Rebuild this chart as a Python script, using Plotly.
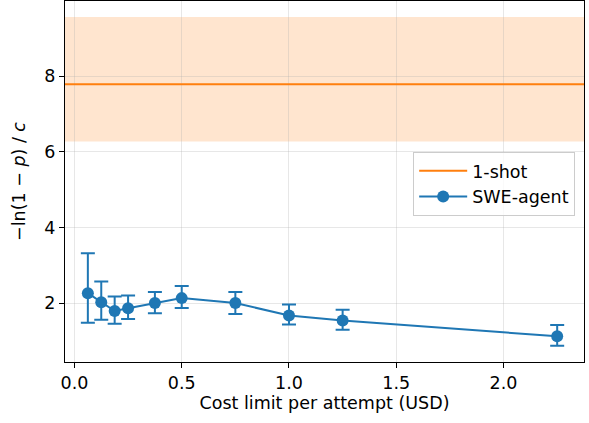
import plotly.graph_objects as go

cost_limits = [0.0625, 0.125, 0.1875, 0.25, 0.375, 0.5, 0.75, 1.0, 1.25, 2.25]
swe_values = [2.26, 2.02, 1.79, 1.86, 2.00, 2.13, 2.00, 1.67, 1.54, 1.12]
swe_upper = [3.32, 2.57, 2.17, 2.20, 2.29, 2.45, 2.29, 1.96, 1.82, 1.42]
swe_lower = [1.48, 1.56, 1.45, 1.58, 1.73, 1.87, 1.71, 1.43, 1.29, 0.87]

one_shot_value = 7.79
one_shot_low = 6.27
one_shot_high = 9.57

x_ticks = [0.0, 0.5, 1.0, 1.5, 2.0]
x_tick_labels = ["0.0", "0.5", "1.0", "1.5", "2.0"]
y_ticks = [2, 4, 6, 8]

blue = "#1f77b4"
orange = "#ff7f0e"

err_plus = [u - v for u, v in zip(swe_upper, swe_values)]
err_minus = [v - l for v, l in zip(swe_values, swe_lower)]

fig = go.Figure()

fig.add_shape(type="rect", xref="paper", x0=0, x1=1, yref="y",
              y0=one_shot_low, y1=one_shot_high,
              fillcolor="rgba(255,127,14,0.2)", line=dict(width=0), layer="below")
fig.add_shape(type="line", xref="paper", x0=0, x1=1, yref="y",
              y0=one_shot_value, y1=one_shot_value,
              line=dict(color=orange, width=2), layer="above",
              showlegend=True, name="1-shot", legendrank=1)

fig.add_trace(go.Scatter(
    x=cost_limits, y=swe_values, mode="lines+markers", name="SWE-agent",
    line=dict(color=blue, width=2),
    marker=dict(color=blue, size=12),
    error_y=dict(type="data", symmetric=False, array=err_plus, arrayminus=err_minus,
                 color=blue, thickness=2, width=7),
    legendrank=2,
))

axis_common = dict(
    showline=True, linecolor="black", linewidth=1.2, mirror=True,
    ticks="outside", ticklen=5, tickwidth=1.2, tickcolor="black",
    showgrid=True, gridcolor="rgba(176,176,176,0.3)", gridwidth=1,
    zeroline=False, tickfont=dict(size=17.5, color="black"), automargin=False,
)

fig.update_layout(
    width=589, height=423,
    margin=dict(l=65, r=5, t=1, b=61, autoexpand=False),
    paper_bgcolor="white", plot_bgcolor="white",
    font=dict(family="DejaVu Sans", size=17.5, color="black"),
    xaxis=dict(range=[-0.044, 2.375], tickvals=x_ticks, ticktext=x_tick_labels,
               title=dict(text="Cost limit per attempt (USD)", font=dict(size=17.5), standoff=4),
               **axis_common),
    yaxis=dict(range=[0.44, 9.99], tickvals=y_ticks,
               title=dict(text="−ln(1 − <i>p</i>) / <i>c</i>", font=dict(size=17.5), standoff=14),
               **axis_common),
    legend=dict(x=0.983, y=0.582, xanchor="right", yanchor="top",
                bgcolor="rgba(255,255,255,0.8)", bordercolor="#cccccc", borderwidth=1,
                font=dict(size=17.5), tracegroupgap=0, itemwidth=48),
    showlegend=True,
)

fig.write_html("out.html", post_script="document.body.style.margin='0';",
               config={"displayModeBar": False})
